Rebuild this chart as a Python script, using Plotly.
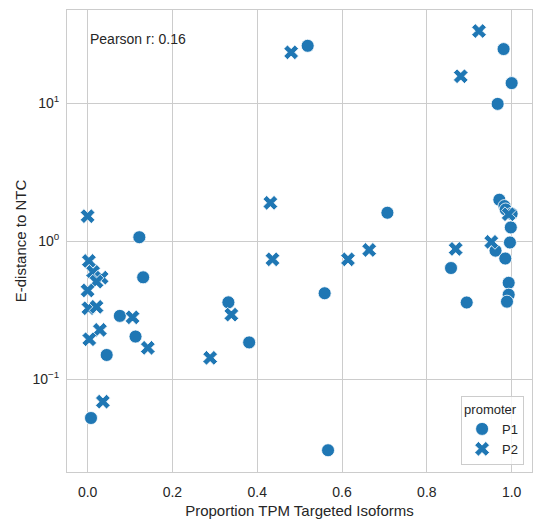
import plotly.graph_objects as go

# P1 promoter guides: (proportion TPM targeted, e-distance)
p1_x = [0.519, 0.981, 1.000, 0.967, 0.971, 0.983, 0.986, 1.000, 0.707, 0.122,
        0.998, 0.996, 0.962, 0.985, 0.857, 0.131, 0.993, 0.993, 0.989, 0.559,
        0.894, 0.332, 0.076, 0.113, 0.381, 0.045, 0.008, 0.567]
p1_y = [26.1, 24.7, 14.0, 9.9, 2.0, 1.8, 1.70, 1.58, 1.61, 1.07,
        1.26, 0.98, 0.855, 0.75, 0.64, 0.548, 0.50, 0.41, 0.365, 0.42,
        0.36, 0.361, 0.288, 0.204, 0.185, 0.15, 0.0524, 0.0306]

# P2 promoter guides
p2_x = [0.923, 0.480, 0.880, 0.431, 0.993, 0.952, 0.868, 0.664, 0.436, 0.614,
        0.000, 0.003, 0.013, 0.033, 0.021, 0.000, 0.002, 0.021, 0.106, 0.029,
        0.004, 0.339, 0.142, 0.289, 0.036]
p2_y = [33.4, 23.4, 15.7, 1.90, 1.57, 0.99, 0.88, 0.865, 0.74, 0.74,
        1.52, 0.72, 0.60, 0.545, 0.51, 0.44, 0.327, 0.335, 0.281, 0.228,
        0.195, 0.294, 0.169, 0.143, 0.0688]

x_ticks = [0.0, 0.2, 0.4, 0.6, 0.8, 1.0]
y_ticks = [0.1, 1, 10]
y_ticktext = ["10<sup>\u22121</sup>", "10<sup>0</sup>", "10<sup>1</sup>"]

blue = "#1f77b4"
grid = "#cccccc"
txt = "#262626"
fnt = "Liberation Sans, Arial, sans-serif"
clear = "rgba(0,0,0,0)"

fig = go.Figure()
fig.add_trace(go.Scatter(x=p1_x, y=p1_y, mode="markers", name="P1",
                         marker=dict(symbol="circle", size=13, color=blue,
                                     line=dict(color="white", width=0.8))))
fig.add_trace(go.Scatter(x=p2_x, y=p2_y, mode="markers", name="P2",
                         marker=dict(symbol="x", size=13, color=blue,
                                     line=dict(color="white", width=0.8))))

fig.add_annotation(text="Pearson r: 0.16", xref="paper", yref="paper",
                   x=0.046, y=0.937, xanchor="left", yanchor="middle",
                   showarrow=False, font=dict(size=14, color=txt, family=fnt))

# page body adds an 8px margin, so the figure is 8px smaller than the window
fig.update_layout(
    width=533, height=517,
    margin=dict(l=59, r=9, t=2, b=53),
    paper_bgcolor="white", plot_bgcolor="white",
    font=dict(family=fnt, size=13, color=txt),
    legend=dict(title=dict(text="promoter", font=dict(size=13, color=txt)),
                font=dict(size=13, color=txt),
                x=0.983, y=0.015, xanchor="right", yanchor="bottom",
                bgcolor="rgba(255,255,255,0.8)", bordercolor=grid, borderwidth=1),
)
fig.update_xaxes(title=dict(text="Proportion TPM Targeted Isoforms", standoff=6,
                            font=dict(size=15, color=txt)),
                 range=[-0.0486, 1.048], tickvals=x_ticks, tickformat=".1f",
                 tickfont=dict(size=14, color=txt), automargin=False,
                 showgrid=True, gridcolor=grid, zeroline=False,
                 showline=True, linecolor=grid, mirror=True,
                 ticks="outside", ticklen=7, tickcolor=clear)
fig.update_yaxes(title=dict(text="E-distance to NTC", standoff=2,
                            font=dict(size=15, color=txt)),
                 type="log", range=[-1.672, 1.676],
                 tickvals=y_ticks, ticktext=y_ticktext,
                 tickfont=dict(size=14, color=txt), automargin=False,
                 showgrid=True, gridcolor=grid, zeroline=False,
                 showline=True, linecolor=grid, mirror=True,
                 ticks="outside", ticklen=4, tickcolor=clear)

fig.write_html("out.html")
